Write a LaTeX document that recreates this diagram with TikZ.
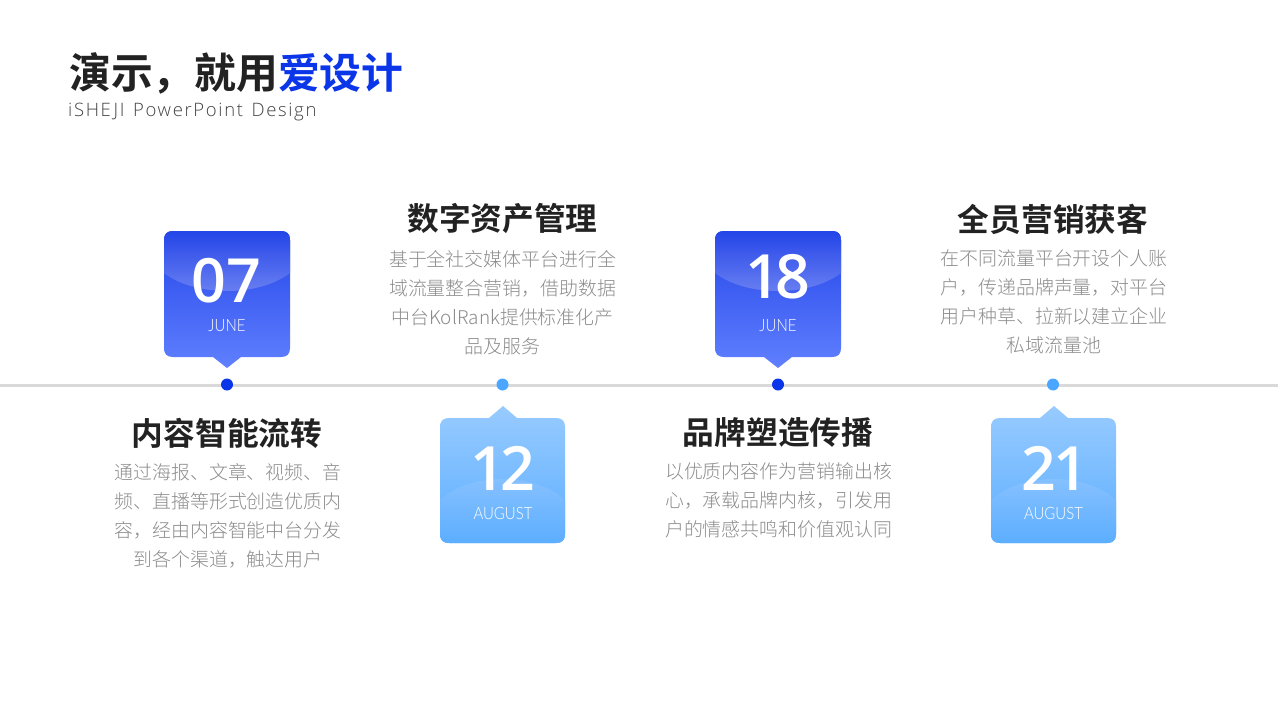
\documentclass[tikz,border=0pt]{standalone}
\usepackage{fontspec}
\setmainfont{Noto Sans CJK SC}[UprightFont=* Light,BoldFont=* Bold]
\newfontfamily\titlef{Noto Sans CJK SC}[UprightFont=* Bold]
\newfontfamily\numf{Open Sans}[UprightFont=* Semibold]
\newfontfamily\latinl{Lato}[UprightFont=* Light,FakeStretch=0.88]
\newfontfamily\subf{Open Sans}[UprightFont=* Light,LetterSpace=9]
\definecolor{inkc}{HTML}{222222}
\definecolor{bluec}{HTML}{0A35E8}
\definecolor{bodyc}{HTML}{8C8C8C}
\definecolor{linec}{HTML}{D9D9D9}
\definecolor{dotdark}{HTML}{0A35E8}
\definecolor{dotlight}{HTML}{4BA6FF}
\definecolor{dkA}{HTML}{2445E8}
\definecolor{dkB}{HTML}{6080FF}
\definecolor{dkHi}{HTML}{6E84F2}
\definecolor{ltA}{HTML}{98CBFF}
\definecolor{ltM}{HTML}{74B9FF}
\definecolor{ltB}{HTML}{5CAEFF}
\definecolor{ltHi}{HTML}{8AC2FF}
\tikzset{
  headtext/.style={font=\titlef\fontsize{31.7}{36}\selectfont,text=inkc,anchor=center,inner sep=0pt},
  bodytext/.style={font=\fontsize{18.9}{29}\selectfont,text=bodyc,align=center,anchor=north,inner sep=0pt},
  numtext/.style={font=\numf\fontsize{61}{61}\selectfont,text=white,anchor=base,inner sep=0pt},
  monthtext/.style={font=\latinl\fontsize{17}{17}\selectfont,text=white,anchor=base,inner sep=0pt},
  dot/.style={circle,draw=none,minimum size=12pt,inner sep=0pt}
}
\newcommand\downpath{(9,0) -- (117,0) .. controls (123,0) and (126,3) .. (126,9)
    -- (126,117) .. controls (126,123) and (123,126) .. (117,126)
    -- (77,126) -- (63,137) -- (49,126) -- (9,126)
    .. controls (3,126) and (0,123) .. (0,117) -- (0,9)
    .. controls (0,3) and (3,0) .. (9,0) -- cycle}
\newcommand\uppath{(9,0) -- (49,0) -- (63,-12) -- (77,0) -- (116,0) .. controls (122,0) and (125,3) .. (125,9)
    -- (125,116) .. controls (125,122) and (122,125) .. (116,125)
    -- (9,125) .. controls (3,125) and (0,122) .. (0,116) -- (0,9)
    .. controls (0,3) and (3,0) .. (9,0) -- cycle}
\newcommand\downcard{%
  \shade[top color=dkA,bottom color=dkB] \downpath;
  \begin{scope}
  \clip \downpath;
  \shade[top color=dkA,bottom color=dkHi]
    (0,0) -- (126,0) -- (126,42) .. controls (95,66) and (31,66) .. (0,42) -- cycle;
  \end{scope}}
\newcommand\upcard{%
  \shade[top color=ltA,middle color=ltM,bottom color=ltB] \uppath;
  \begin{scope}
  \clip \uppath;
  \shade[top color=ltHi,bottom color=ltB]
    (0,125) -- (0,82) .. controls (30,54) and (95,54) .. (125,82) -- (125,125) -- cycle;
  \end{scope}}
\begin{document}
\begin{tikzpicture}[x=1pt,y=-1pt]
\useasboundingbox (0,0) rectangle (1280,720);
\fill[white] (0,0) rectangle (1280,720);

\node[anchor=west,inner sep=0pt,font=\titlef\fontsize{41.8}{48}\selectfont,text=inkc] (title) at (69,73.5) {演示，就用\textcolor{bluec}{爱设计}};
\node[anchor=base west,inner sep=0pt,font=\subf\fontsize{18.5}{22}\selectfont,text=inkc!85] (subtitle) at (68,116) {iSHEJI\hspace{2pt} PowerPoint\hspace{2pt} Design};

\coordinate (lineL) at (0,385);
\coordinate (lineR) at (1278,385);
\draw[linec,line width=3pt] (lineL) -- (lineR);
\node[dot,fill=dotdark] (d1) at (227,384.5) {};
\node[dot,fill=dotlight] (d2) at (502.5,384.5) {};
\node[dot,fill=dotdark] (d3) at (778,384.5) {};
\node[dot,fill=dotlight] (d4) at (1053,384.5) {};

\begin{scope}[shift={(164,231)}]\downcard\end{scope}
\begin{scope}[shift={(715,231)}]\downcard\end{scope}
\begin{scope}[shift={(440,418)}]\upcard\end{scope}
\begin{scope}[shift={(991,418)}]\upcard\end{scope}

\node[numtext] (n1) at (226.5,302) {07};
\node[monthtext] (m1) at (227,331) {JUNE};
\node[numtext] (n2) at (502.5,490) {1\kern-5pt 2};
\node[monthtext] (m2) at (503,519) {AUGUST};
\node[numtext] (n3) at (778,298) {1\kern-5pt 8};
\node[monthtext] (m3) at (778,331) {JUNE};
\node[numtext] (n4) at (1055,490) {2\kern-3pt 1};
\node[monthtext] (m4) at (1053.5,519) {AUGUST};

\node[headtext] (h1) at (227,433) {内容智能流转};
\node[bodytext] (b1) at (228,463) {通过海报、文章、视频、音\\频、直播等形式创造优质内\\容，经由内容智能中台分发\\到各个渠道，触达用户};
\node[headtext] (h2) at (502.5,219) {数字资产管理};
\node[bodytext] (b2) at (502.5,250) {基于全社交媒体平台进行全\\域流量整合营销，借助数据\\中台KolRank提供标准化产\\品及服务};
\node[headtext] (h3) at (778,432) {品牌塑造传播};
\node[bodytext] (b3) at (778.5,462) {以优质内容作为营销输出核\\心，承载品牌内核，引发用\\户的情感共鸣和价值观认同};
\node[headtext] (h4) at (1053,219) {全员营销获客};
\node[bodytext] (b4) at (1054,250) {在不同流量平台开设个人账\\户，传递品牌声量，对平台\\用户种草、拉新以建立企业\\私域流量池};
\end{tikzpicture}
\end{document}
